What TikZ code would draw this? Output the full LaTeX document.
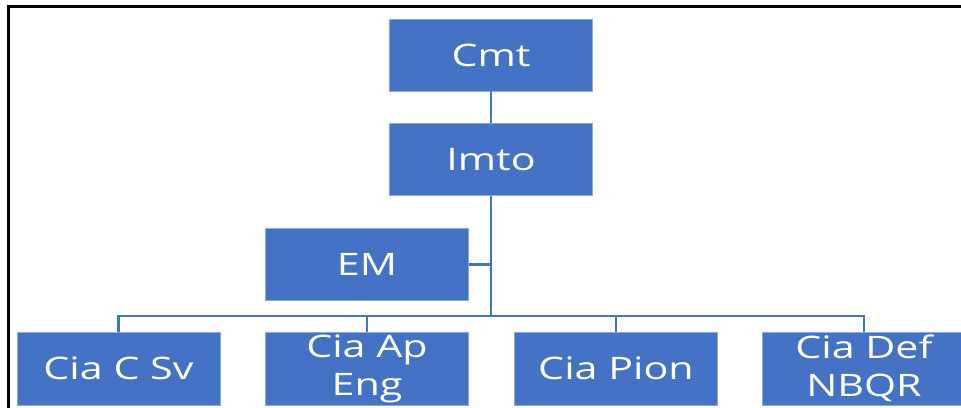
\documentclass[tikz,border=0pt]{standalone}
\usepackage{fontspec}
\setmainfont[FakeStretch=1.33]{Open Sans}
\definecolor{boxblue}{RGB}{68,114,196}
\definecolor{edgeblue}{RGB}{140,168,220}
\tikzset{
  orgbox/.style={rectangle, fill=boxblue, draw=edgeblue, line width=0.6pt,
    minimum width=203pt, minimum height=72pt, inner sep=0pt,
    text=white, align=center, font=\fontsize{31}{38}\selectfont},
  link/.style={draw=boxblue, line width=2.2pt},
  frame/.style={draw=black, line width=2.5pt}
}
\begin{document}
\begin{tikzpicture}[x=1pt,y=1pt]
\useasboundingbox (0,0) rectangle (961,-407);
\draw[frame] (8.5,-410) -- (8.5,-6.5) -- (965,-6.5);

\node[orgbox] (cmt)  at (491,-55)    {Cmt};
\node[orgbox] (imto) at (491,-159.5) {Imto};
\node[orgbox] (em)   at (367,-264.5) {EM};
\node[orgbox, minimum height=73pt] (c1) at (118.5,-368.5) {Cia C Sv};
\node[orgbox, minimum height=73pt] (c2) at (367,-368.5)   {Cia Ap\\Eng};
\node[orgbox, minimum height=73pt] (c3) at (616,-368.5)   {Cia Pion};
\node[orgbox, minimum height=73pt] (c4) at (864,-368.5)   {Cia Def\\NBQR};

\coordinate (busy) at (0,-316);
\coordinate (trunk) at (imto.south |- busy);
\coordinate (emjoin) at (imto.south |- em.east);

\draw[link] (cmt.south) -- (imto.north);
\draw[link] (imto.south) -- (trunk);
\draw[link] (em.east) -- (emjoin);
\draw[link] (c1.north) -- (c1.north |- busy) -- (c4.north |- busy) -- (c4.north);
\draw[link] (c2.north) -- (c2.north |- busy);
\draw[link] (c3.north) -- (c3.north |- busy);
\end{tikzpicture}
\end{document}
